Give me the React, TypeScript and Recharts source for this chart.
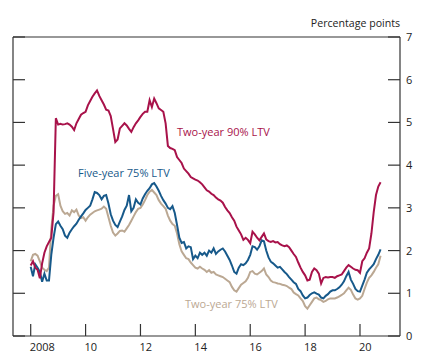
import { Line, LineChart, XAxis, YAxis } from "recharts"

const startYear = 2008

// monthly spreads, Jan 2008 onwards (percentage points)
const twoYear90 = [
  1.65, 1.75, 1.6, 1.55, 1.35, 1.7, 1.95, 2.1, 2.2, 2.3, 2.9, 5.1,
  4.95, 4.97, 4.95, 4.96, 4.98, 4.95, 4.9, 4.82, 4.98, 5.08, 5.18, 5.22,
  5.25, 5.4, 5.5, 5.6, 5.68, 5.75, 5.62, 5.52, 5.42, 5.3, 5.28, 5.15,
  4.85, 4.54, 4.6, 4.86, 4.92, 4.98, 4.93, 4.85, 4.78, 4.89, 4.98, 5.05,
  5.13, 5.2, 5.25, 5.25, 5.52, 5.36, 5.56, 5.45, 5.33, 5.29, 5.25, 4.98,
  4.45, 4.4, 4.38, 4.35, 4.19, 4.12, 4.05, 3.92, 3.86, 3.8, 3.72, 3.69,
  3.66, 3.64, 3.6, 3.55, 3.48, 3.41, 3.38, 3.33, 3.3, 3.24, 3.2, 3.17,
  3.12, 3.02, 2.94, 2.88, 2.78, 2.7, 2.56, 2.47, 2.38, 2.25, 2.3, 2.25,
  2.17, 2.44, 2.38, 2.3, 2.24, 2.32, 2.4, 2.26, 2.22, 2.2, 2.22, 2.19,
  2.2, 2.15, 2.12, 2.1, 2.12, 2.08, 2.0, 1.92, 1.85, 1.72, 1.6, 1.5,
  1.42, 1.3, 1.32, 1.5, 1.58, 1.54, 1.46, 1.23, 1.36, 1.38, 1.37, 1.38,
  1.38, 1.36, 1.4, 1.42, 1.44, 1.52, 1.6, 1.66, 1.62, 1.58, 1.55, 1.54,
  1.48, 1.75, 1.82, 1.95, 2.05, 2.4, 2.9, 3.3, 3.5, 3.6,
]

const fiveYear75 = [
  1.62, 1.4, 1.68, 1.6, 1.5, 1.27, 1.46, 1.3, 1.3, 1.9, 2.3, 2.62,
  2.68, 2.58, 2.5, 2.35, 2.3, 2.42, 2.5, 2.57, 2.63, 2.72, 2.8, 2.87,
  2.95, 3.0, 3.05, 3.2, 3.37, 3.35, 3.3, 3.2, 3.28, 3.3, 3.1, 2.85,
  2.7, 2.6, 2.55, 2.68, 2.8, 2.95, 3.05, 3.3, 2.92, 3.0, 3.2, 3.12,
  3.08, 3.22, 3.32, 3.4, 3.46, 3.55, 3.58, 3.5, 3.4, 3.28, 3.18, 3.1,
  3.0, 2.97, 3.04, 2.88, 2.6, 2.3, 2.18, 2.2, 2.05, 2.1, 2.08, 1.8,
  1.88, 1.82, 1.95, 1.9, 1.95, 1.88, 2.0, 1.95, 2.05, 1.92, 1.98, 2.02,
  2.05, 1.98, 1.88, 1.78, 1.65, 1.5, 1.46, 1.6, 1.68, 1.66, 1.7, 1.78,
  1.9, 2.1, 2.08, 2.02, 2.1, 2.24, 2.22, 2.0, 1.84, 1.74, 1.7, 1.65,
  1.6, 1.62, 1.56, 1.5, 1.45, 1.38, 1.32, 1.26, 1.22, 1.1, 1.05, 0.95,
  0.88, 0.9, 0.96, 1.0, 1.02, 0.99, 0.97, 0.9, 0.88, 0.94, 0.98, 1.04,
  1.07, 1.07, 1.1, 1.14, 1.2, 1.28, 1.4, 1.5, 1.32, 1.22, 1.1, 1.05,
  1.04, 1.18, 1.32, 1.48, 1.56, 1.62, 1.68, 1.8, 1.9, 2.03,
]

const twoYear75 = [
  1.75, 1.9, 1.92, 1.88, 1.75, 1.6, 1.55, 1.52, 1.6, 2.5, 3.05, 3.28,
  3.32, 3.05, 2.92, 2.86, 2.88, 2.82, 2.94, 2.9, 2.96, 2.82, 2.76, 2.78,
  2.7, 2.78, 2.84, 2.88, 2.92, 2.94, 2.96, 2.98, 3.03, 2.98, 2.78, 2.58,
  2.42, 2.35, 2.4, 2.46, 2.47, 2.44, 2.52, 2.6, 2.7, 2.8, 2.9, 2.98,
  3.0, 3.08, 3.18, 3.3, 3.38, 3.42, 3.36, 3.3, 3.18, 3.1, 3.04, 2.98,
  2.82, 2.7, 2.62, 2.58, 2.4, 2.15, 1.98, 1.9, 1.82, 1.8, 1.72, 1.66,
  1.6, 1.58, 1.62, 1.58, 1.55, 1.5, 1.54, 1.48, 1.5, 1.44, 1.42, 1.4,
  1.38, 1.34, 1.3, 1.26, 1.15, 1.07, 1.04, 1.12, 1.2, 1.24, 1.28, 1.36,
  1.5, 1.52, 1.46, 1.44, 1.48, 1.52, 1.58, 1.44, 1.38, 1.3, 1.26, 1.25,
  1.23, 1.22, 1.2, 1.19, 1.17, 1.13, 1.1, 1.02, 0.98, 0.95, 0.88, 0.82,
  0.7, 0.64, 0.72, 0.8, 0.88, 0.9, 0.86, 0.84, 0.8, 0.82, 0.86, 0.88,
  0.88, 0.88, 0.9, 0.93, 0.96, 1.0, 1.07, 1.13, 1.08, 0.97, 0.88, 0.85,
  0.88, 0.94, 1.1, 1.25, 1.36, 1.42, 1.5, 1.6, 1.68, 1.88,
]

const xTicks = [2008, 2010, 2012, 2014, 2016, 2018, 2020]
const xTickLabels = ["2008", "10", "12", "14", "16", "18", "20"]
const yTicks = [0, 1, 2, 3, 4, 5, 6, 7]
const xDomain = [2007.355, 2021.458]

const data = twoYear90.map((v, i) => ({
  t: startYear + i / 12,
  twoYear90: v,
  fiveYear75: fiveYear75[i],
  twoYear75: twoYear75[i],
}))

const FONT = "'Open Sans', sans-serif"
const AXIS = "#333"
const RED = "#A8124A"
const BLUE = "#17598A"
const TAN = "#BBA893"
const TICK_LEN = 12

function BottomTick({ x, y, payload }: any) {
  const label = xTickLabels[xTicks.indexOf(payload.value)]
  return (
    <g>
      <line x1={x} x2={x} y1={y} y2={y - TICK_LEN} stroke={AXIS} strokeWidth={1.2} />
      <text x={x - 1} y={y + 15} fontSize={11} fontFamily={FONT} fill="#222" textAnchor="start">
        {label}
      </text>
    </g>
  )
}

function LeftTick({ x, y }: any) {
  return <line x1={x} x2={x + TICK_LEN} y1={y} y2={y} stroke={AXIS} strokeWidth={1.2} />
}

function RightTick({ x, y, payload }: any) {
  return (
    <g>
      <line x1={x - TICK_LEN} x2={x} y1={y} y2={y} stroke={AXIS} strokeWidth={1.2} />
      <text x={x + 6} y={y + 4} fontSize={11} fontFamily={FONT} fill="#222" textAnchor="start">
        {payload.value}
      </text>
    </g>
  )
}

export default function App() {
  return (
    <div style={{ position: "absolute", left: 0, top: 0, width: 425, height: 362, background: "#fff" }}>
      <LineChart width={425} height={362} data={data} margin={{ top: 36, right: 0, bottom: 0, left: 12 }}>
        <XAxis
          dataKey="t"
          type="number"
          domain={xDomain}
          ticks={xTicks}
          interval={0}
          height={26}
          tickSize={0}
          tickMargin={0}
          tickLine={false}
          tick={BottomTick}
          axisLine={{ stroke: AXIS, strokeWidth: 1.2 }}
        />
        <XAxis
          xAxisId="top"
          orientation="top"
          dataKey="t"
          type="number"
          domain={xDomain}
          height={1}
          tick={false}
          tickLine={false}
          axisLine={{ stroke: AXIS, strokeWidth: 1.2 }}
        />
        <YAxis
          yAxisId="left"
          orientation="left"
          type="number"
          domain={[0, 7]}
          ticks={yTicks}
          interval={0}
          width={1}
          tickSize={0}
          tickMargin={0}
          tickLine={false}
          tick={LeftTick}
          axisLine={{ stroke: AXIS, strokeWidth: 1.2 }}
        />
        <YAxis
          yAxisId="right"
          orientation="right"
          type="number"
          domain={[0, 7]}
          ticks={yTicks}
          interval={0}
          width={25}
          tickSize={0}
          tickMargin={0}
          tickLine={false}
          tick={RightTick}
          axisLine={{ stroke: AXIS, strokeWidth: 1.2 }}
        />
        <Line yAxisId="left" dataKey="twoYear75" stroke={TAN} strokeWidth={2} dot={false} isAnimationActive={false} />
        <Line yAxisId="left" dataKey="fiveYear75" stroke={BLUE} strokeWidth={2} dot={false} isAnimationActive={false} />
        <Line xAxisId="top" yAxisId="right" dataKey="twoYear90" stroke={RED} strokeWidth={2} dot={false} isAnimationActive={false} />
        <text x={400} y={27} textAnchor="end" fontSize={10.6} fontFamily={FONT} fill="#222">
          Percentage points
        </text>
        <text x={177} y={136} fontSize={11} fontFamily={FONT} fill={RED}>
          Two-year 90% LTV
        </text>
        <text x={78} y={177} fontSize={11} fontFamily={FONT} fill={BLUE}>
          Five-year 75% LTV
        </text>
        <text x={185} y={308} fontSize={11} fontFamily={FONT} fill={TAN}>
          Two-year 75% LTV
        </text>
      </LineChart>
    </div>
  )
}
